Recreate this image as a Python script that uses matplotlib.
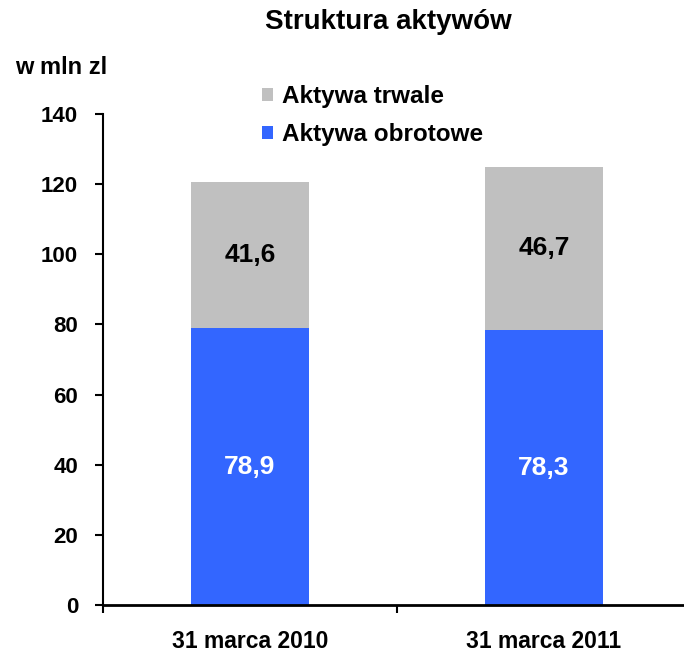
import numpy as np
import matplotlib.pyplot as plt

plt.rcParams['font.family'] = ['Liberation Sans', 'DejaVu Sans']
plt.rcParams['font.weight'] = 'bold'

# Dane
kategorie = ['31 marca 2010', '31 marca 2011']
obrotowe = [78.9, 78.3]
trwale = [41.6, 46.7]

kolor_obr = '#3366FF'
kolor_trw = '#C0C0C0'

fig = plt.figure(figsize=(6.84, 6.52), dpi=100)
ax = fig.add_axes([0.1506, 0.0721, 0.8596, 0.7531])

x = np.arange(len(kategorie))
szer = 0.4
b1 = ax.bar(x, obrotowe, szer, color=kolor_obr, label='Aktywa obrotowe')
b2 = ax.bar(x, trwale, szer, bottom=obrotowe, color=kolor_trw, label='Aktywa trwale')

# Etykiety wartości
for xi, o, t in zip(x, obrotowe, trwale):
    ax.text(xi, o / 2, f"{o:.1f}".replace('.', ','), ha='center', va='center',
            color='white', fontsize=19, fontweight='bold')
    ax.text(xi, o + t / 2, f"{t:.1f}".replace('.', ','), ha='center', va='center',
            color='black', fontsize=19, fontweight='bold')

# Osie
ax.set_ylim(0, 140)
ax.set_yticks(np.arange(0, 141, 20))
ax.set_xlim(-0.5, 1.5)
ax.set_xticks(x)
ax.set_xticklabels(kategorie, fontsize=16.5, fontweight='bold')
ax.tick_params(axis='x', length=0, pad=18)
ax.set_xticks([-0.5, 0.5, 1.5], minor=True)
ax.tick_params(axis='x', which='minor', length=6, width=1.5, direction='out')
ax.tick_params(axis='y', labelsize=16, length=6, width=1.5, direction='out', pad=12)
for s in ['top', 'right']:
    ax.spines[s].set_visible(False)
ax.spines['left'].set_linewidth(1.5)
ax.spines['bottom'].set_linewidth(2)

# Tytuł i jednostka
fig.text(0.568, 0.966, 'Struktura aktywów', ha='center', va='center',
         fontsize=20, fontweight='bold')
fig.text(0.022, 0.896, 'w mln zl', ha='left', va='center',
         fontsize=17, fontweight='bold')

# Legenda
ax.legend(handles=[b2, b1], loc='upper left', bbox_to_anchor=(0.27, 1.058),
          frameon=False, prop={'size': 17.5, 'weight': 'bold'},
          handlelength=0.45, handleheight=0.45,
          handletextpad=0.4, labelspacing=0.6, borderaxespad=0, borderpad=0)

fig.savefig('out.png', dpi=100)
